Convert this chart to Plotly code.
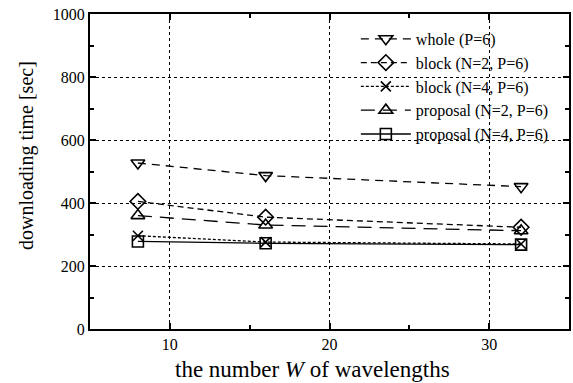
import plotly.graph_objects as go

W = [8, 16, 32]
whole = [527, 487, 452]
block_n2 = [405, 355, 323]
block_n4 = [296, 276, 270]
prop_n2 = [360, 330, 312]
prop_n4 = [278, 272, 268]

names = ["whole (P=6)", "block (N=2, P=6)", "block (N=4, P=6)",
         "proposal (N=2, P=6)", "proposal (N=4, P=6)"]
series = [whole, block_n2, block_n4, prop_n2, prop_n4]
symbols = ["triangle-down-open", "diamond-open", "x-thin-open", "triangle-up-open", "square-open"]
dashes = ["8px,6px", "6px,4px", "3px,2px", "14px,8px", "solid"]
sizes = [12, 12, 10, 12, 11]

fig = go.Figure()
for n, s, sym, d, sz in zip(names, series, symbols, dashes, sizes):
    fig.add_trace(go.Scatter(
        x=W, y=s, name=n, mode="lines+markers",
        line=dict(color="black", width=1.3, dash=d),
        marker=dict(symbol=sym, size=sz, color="black", line=dict(color="black", width=1.6)),
    ))

font = "Liberation Serif, Times New Roman, serif"
axis_common = dict(
    showline=True, linecolor="black", linewidth=2, mirror="ticks",
    ticks="inside", ticklen=6, tickwidth=1.5, tickcolor="black",
    showgrid=True, gridcolor="black", gridwidth=1, griddash="dot",
    zeroline=False, tickfont=dict(family=font, size=16, color="black"),
)
fig.update_xaxes(range=[5, 35], tickvals=[10, 20, 30],
                 minor=dict(tickvals=[5, 15, 25, 35], ticks="inside", ticklen=4, tickcolor="black", showgrid=False),
                 **axis_common)
fig.update_yaxes(range=[0, 1000], tickvals=[0, 200, 400, 600, 800, 1000],
                 minor=dict(tickvals=[100, 300, 500, 700, 900], ticks="inside", ticklen=4, tickcolor="black", showgrid=False),
                 **axis_common)
fig.add_annotation(text="the number <i>W</i> of wavelengths", xref="paper", yref="paper",
                   x=0.465, y=-0.128, xanchor="center", yanchor="middle", showarrow=False,
                   font=dict(family=font, size=23, color="black"))
fig.add_annotation(text="downloading time [sec]", xref="paper", yref="paper",
                   x=-0.133, y=0.55, xanchor="center", yanchor="middle", showarrow=False, textangle=-90,
                   font=dict(family=font, size=20, color="black"))
fig.update_layout(
    width=573, height=383,
    margin=dict(l=90, r=2, t=14, b=54),
    plot_bgcolor="white", paper_bgcolor="white",
    font=dict(family=font, color="black"),
    legend=dict(x=0.555, y=0.975, xanchor="left", yanchor="top",
                bgcolor="rgba(0,0,0,0)", font=dict(family=font, size=16, color="black"),
                tracegroupgap=0, itemwidth=50),
    showlegend=True,
)
fig.write_html("out.html")
